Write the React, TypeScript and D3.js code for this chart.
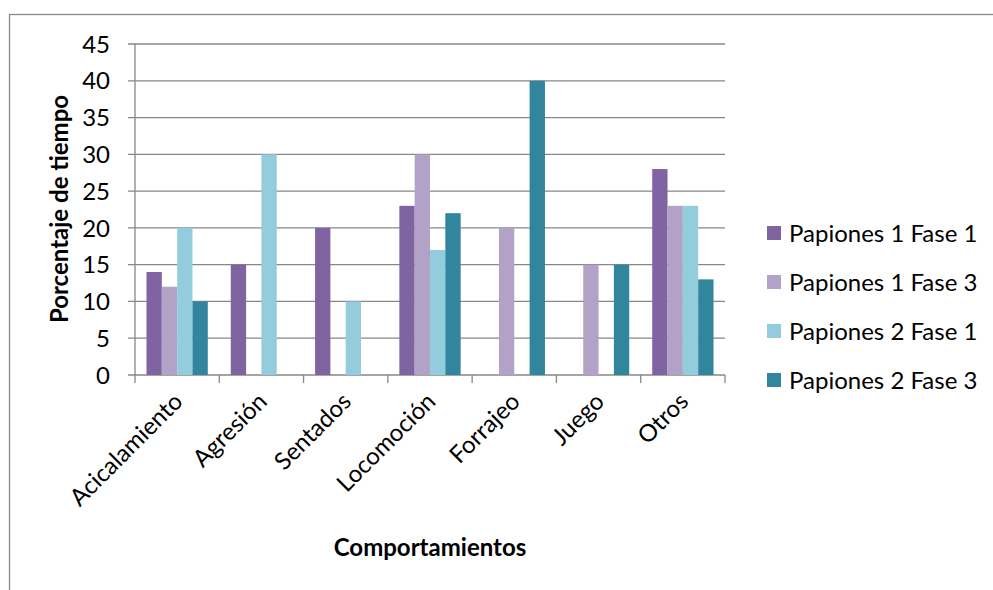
import React from "react";
import * as d3 from "d3";

const categories = ["Acicalamiento", "Agresión", "Sentados", "Locomoción", "Forrajeo", "Juego", "Otros"];
const seriesNames = ["Papiones 1 Fase 1", "Papiones 1 Fase 3", "Papiones 2 Fase 1", "Papiones 2 Fase 3"];
const p1f1 = [14, 15, 20, 23, 0, 0, 28];
const p1f3 = [12, 0, 0, 30, 20, 15, 23];
const p2f1 = [20, 30, 10, 17, 0, 0, 23];
const p2f3 = [10, 0, 0, 22, 40, 15, 13];
const yTicks = [0, 5, 10, 15, 20, 25, 30, 35, 40, 45];
const colors = ["#8064A2", "#B3A2C7", "#93CDDD", "#31859C"];

const W = 993;
const H = 590;
const FONT = "Lato, 'Open Sans', sans-serif";
const FS = 24;

export default function App() {
  const series = [p1f1, p1f3, p2f1, p2f3];
  const x0 = 135, x1 = 725, yTop = 44, yBot = 375;
  const x = d3.scaleBand<string>().domain(categories).range([x0, x1]).paddingInner(0).paddingOuter(0);
  const y = d3.scaleLinear().domain([0, 45]).range([yBot, yTop]);
  const bw = x.bandwidth();
  const inner = d3.scaleBand<number>().domain([0, 1, 2, 3]).range([bw * 0.75 / 5.5, bw - bw * 0.75 / 5.5]);
  const grid = "#878787";
  return (
    <svg width={W} height={H} style={{ position: "absolute", left: 0, top: 0, background: "#fff" }}>
      <rect x={9.5} y={14.5} width={W + 10} height={H + 10} fill="#fff" stroke="#888" strokeWidth={1.3} />
      {yTicks.map((t) => (
        <g key={t}>
          <line x1={x0 - 7} x2={x1} y1={y(t)} y2={y(t)} stroke={grid} strokeWidth={1.3} />
          <text x={x0 - 25} y={y(t)} dy="0.36em" textAnchor="end" fontFamily={FONT} fontSize={FS} fill="#000">{t}</text>
        </g>
      ))}
      <line x1={x0} x2={x0} y1={yTop} y2={yBot} stroke={grid} strokeWidth={1.3} />
      {categories.map((c, i) => (
        <g key={c}>
          {series.map((s, j) => (
            s[i] > 0 ? (
              <rect key={j} x={(x(c) as number) + (inner(j) as number)} y={y(s[i])} width={inner.bandwidth()} height={y(0) - y(s[i])} fill={colors[j]} />
            ) : null
          ))}
        </g>
      ))}
      {d3.range(categories.length + 1).map((i) => {
        const xx = x0 + i * bw;
        return <line key={i} x1={xx} x2={xx} y1={yBot} y2={yBot + 8} stroke={grid} strokeWidth={1.3} />;
      })}
      {categories.map((c) => {
        const cx = (x(c) as number) + bw / 2 + 7;
        const cy = yBot + 28;
        return (
          <text key={c} x={cx} y={cy} textAnchor="end" transform={`rotate(-45 ${cx} ${cy})`} fontFamily={FONT} fontSize={FS} fill="#000">{c}</text>
        );
      })}
      <text x={430} y={556} textAnchor="middle" fontFamily={FONT} fontSize={FS} fontWeight="bold" fill="#000">Comportamientos</text>
      <text transform={`translate(68,209) rotate(-90)`} textAnchor="middle" fontFamily={FONT} fontSize={FS} fontWeight="bold" fill="#000">Porcentaje de tiempo</text>
      {seriesNames.map((n, j) => {
        const cy = 233 + j * 49;
        return (
          <g key={n}>
            <rect x={767} y={cy - 7} width={14} height={14} fill={colors[j]} />
            <text x={789} y={cy} dy="0.36em" fontFamily={FONT} fontSize={FS} fill="#000">{n}</text>
          </g>
        );
      })}
    </svg>
  );
}
